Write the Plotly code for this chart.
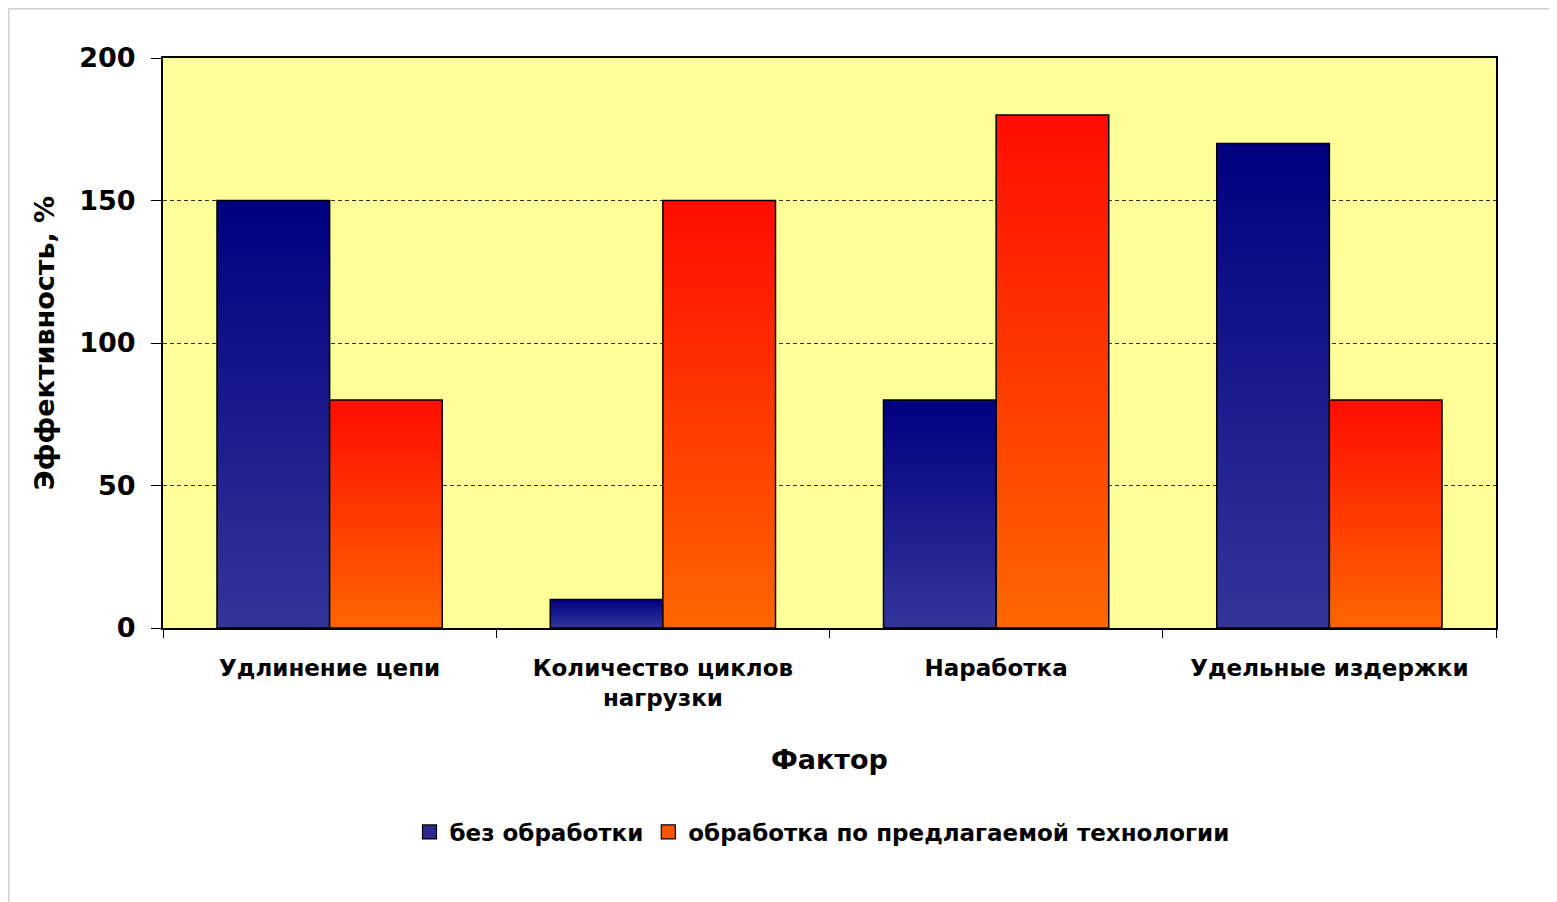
import plotly.graph_objects as go

categories = ["Удлинение цепи", "Количество циклов<br>нагрузки", "Наработка", "Удельные издержки"]
series_names = ["без обработки", "обработка по предлагаемой технологии"]
values_untreated = [150, 10, 80, 170]
values_treated = [80, 150, 180, 80]
y_ticks = [0, 50, 100, 150, 200]

# page is offset by the 8px body margin; compensate
OFF = 8
W, H = 1557 - OFF, 902 - OFF
L, R, T, B = 163 - OFF, 61, 58 - OFF, 274
PW, PH = W - L - R, H - T - B


def py(page_y):
    return (T + PH - (page_y - OFF)) / PH


def px(page_x):
    return (page_x - OFF - L) / PW


FONT = "DejaVu Sans, Verdana, sans-serif"
bar_w = 0.338
series = [
    (series_names[0], values_untreated, -bar_w, [[0, "#34359A"], [1, "#000080"]], "#2A2A90", "#2B2B8F"),
    (series_names[1], values_treated, 0.0, [[0, "#FF6600"], [1, "#FF0D00"]], "#FF4A00", "#FF5500"),
]

fig = go.Figure()
for name, vals, off, cs, base, legc in series:
    for i, v in enumerate(vals):
        x0 = i + off
        x1 = x0 + bar_w
        fig.add_trace(go.Scatter(
            x=[x0, x0, x1, x1, x0], y=[0, v, v, 0, 0],
            mode="lines", fill="toself",
            fillcolor=base,
            fillgradient=dict(type="vertical", colorscale=cs, start=0, stop=v),
            line=dict(color="black", width=1.5),
            name=name, legendgroup=name, showlegend=False,
            hoverinfo="y+name",
        ))
    # legend entry with square key
    fig.add_trace(go.Scatter(
        x=[None], y=[None], mode="markers", name=name, legendgroup=name,
        marker=dict(symbol="square", size=14, color=legc, line=dict(color="black", width=1.2)),
        showlegend=True,
    ))

# invisible trace on label axis so it renders
fig.add_trace(go.Scatter(x=[0, 3], y=[None, None], xaxis="x2", showlegend=False,
                         mode="markers", hoverinfo="skip"))

fig.update_layout(
    width=W, height=H,
    margin=dict(l=L, r=R, t=T, b=B),
    paper_bgcolor="white",
    plot_bgcolor="#FFFF99",
    font=dict(family=FONT, color="black"),
    xaxis=dict(
        range=[-0.5, 3.5], tickvals=[-0.5, 0.5, 1.5, 2.5, 3.5],
        showticklabels=False, ticks="outside", ticklen=8, tickwidth=1.2, tickcolor="black",
        showgrid=False, zeroline=False,
        showline=True, linecolor="black", linewidth=2, mirror=True,
    ),
    xaxis2=dict(
        overlaying="x", matches="x", side="bottom",
        tickvals=[0, 1, 2, 3], ticktext=categories,
        ticks="outside", ticklen=19, tickcolor="rgba(0,0,0,0)",
        tickfont=dict(size=23, family=FONT, weight="bold"),
        showgrid=False, zeroline=False, showline=False,
    ),
    yaxis=dict(
        range=[0, 200], tickvals=y_ticks,
        ticks="outside", ticklen=10, tickwidth=1.2, tickcolor="black",
        tickfont=dict(size=27, weight="bold"), ticklabelstandoff=10,
        showgrid=True, gridcolor="#333333", griddash="4px,3px", gridwidth=1,
        zeroline=False,
        showline=True, linecolor="black", linewidth=2, mirror=True,
        title=dict(text="Эффективность, %", font=dict(size=27, weight="bold"), standoff=17),
    ),
    legend=dict(
        orientation="h", x=px(822), xanchor="center", y=py(832), yanchor="middle",
        font=dict(size=23, weight="bold"), traceorder="normal",
        bgcolor="rgba(0,0,0,0)",
    ),
    annotations=[dict(
        text="Фактор", xref="paper", yref="paper",
        x=px(829), y=py(759), xanchor="center", yanchor="middle",
        showarrow=False, font=dict(size=27, weight="bold"),
    )],
    shapes=[dict(
        type="rect", xref="paper", yref="paper",
        x0=px(OFF + 0.8), x1=px(1555.5),
        y0=py(905), y1=py(OFF + 0.8),
        line=dict(color="#D0D0D0", width=1.5), layer="below",
    )],
)

fig.write_html("out.html")
